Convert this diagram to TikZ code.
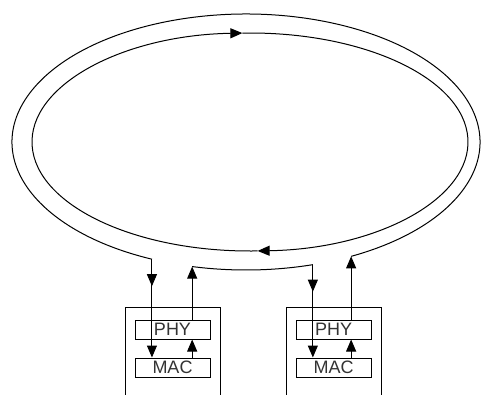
\documentclass[tikz,border=0pt]{standalone}
\usepackage{fontspec}
\setsansfont{Liberation Sans}
\usetikzlibrary{arrows.meta}

\begin{document}
\begin{tikzpicture}[x=1pt, y=-1pt, line width=1pt,
    layer/.style={draw, minimum width=75pt, minimum height=19pt, inner sep=0pt,
                  font=\sffamily\fontsize{18}{18}\selectfont, text=black!80},
    station/.style={draw, minimum width=95pt, minimum height=100pt, anchor=north},
    tip/.style={-{Triangle[length=12pt, width=10pt]}}]

\useasboundingbox (0,0) rectangle (481,394);
\clip (0,0) rectangle (481,394);

% Inner ring, two halves, each ending in its direction mark
\draw[tip] (250,142) ++(88:218 and 109)
    arc[start angle=88, end angle=268, x radius=218, y radius=109];
\draw[tip] (250,142) ++(268:218 and 109)
    arc[start angle=268, end angle=448, x radius=218, y radius=109];

% Outer ring, broken where the stations are inserted
\draw (246,142) ++(113.7:234 and 128) coordinate (inA)
    arc[start angle=113.7, end angle=423.3, x radius=234, y radius=128] coordinate (outB);
\draw (246,142) ++(103.3:234 and 128) coordinate (outA)
    arc[start angle=103.3, end angle=73.4, x radius=234, y radius=128] coordinate (inB);

% Stations
\foreach \s/\cx in {A/172.5, B/333.5} {
    \node[station] (sta\s) at (\cx,307) {};
    \node[layer] (phy\s) at (\cx,329.5) {PHY};
    \node[layer] (mac\s) at (\cx,367.5) {MAC};

    \draw[tip] (in\s) -- ++(0,27);
    \draw[tip] (in\s) -- (in\s |- mac\s.north);
    \draw[tip] (out\s |- mac\s.north) -- (out\s |- phy\s.south);
    \draw[tip] (out\s |- phy\s.north) -- (out\s);
}

\end{tikzpicture}
\end{document}
